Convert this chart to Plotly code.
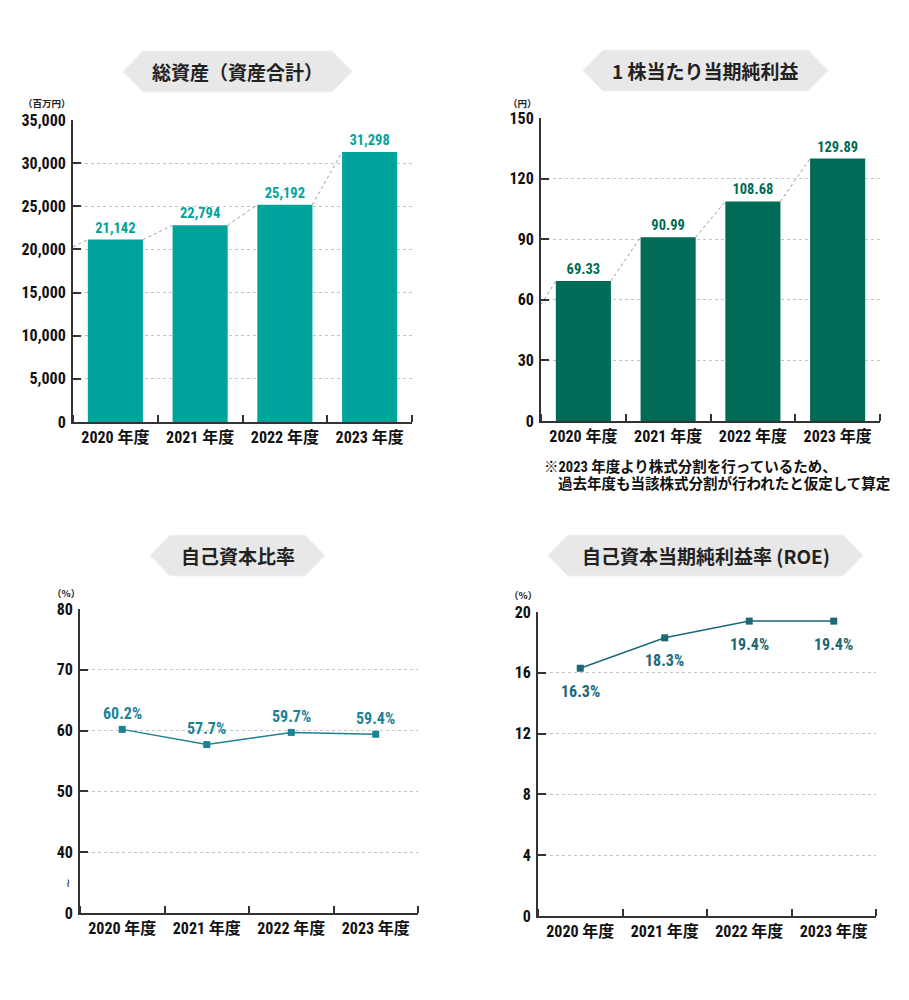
import plotly.graph_objects as go

# the page body has an 8px margin, so the figure is drawn 8px in from the corner
OFF = 8
W, H = 909 - OFF, 1000 - OFF

# data
years = ["2020 年度", "2021 年度", "2022 年度", "2023 年度"]
total_assets = [21142, 22794, 25192, 31298]      # 百万円
total_assets_lead = 20300                         # where the dotted guide meets the y axis
eps = [69.33, 90.99, 108.68, 129.89]              # 円
eps_lead = 57.7
equity_ratio = [60.2, 57.7, 59.7, 59.4]           # %
roe = [16.3, 18.3, 19.4, 19.4]                    # %

assets_ticks = [0, 5000, 10000, 15000, 20000, 25000, 30000, 35000]
eps_ticks = [0, 30, 60, 90, 120, 150]
ratio_ticks = [30, 40, 50, 60, 70, 80]            # 30 is drawn as "0" (broken axis)
ratio_ticktext = ["0", "40", "50", "60", "70", "80"]
roe_ticks = [0, 4, 8, 12, 16, 20]

titles = ["総資産（資産合計）", "1 株当たり当期純利益", "自己資本比率", "自己資本当期純利益率 (ROE)"]

# styles
AX = "#333333"
GRID = "#c4c4c4"
C_ASSETS = "#00a39b"
C_EPS = "#006b56"
C_RATIO = "#1b8296"
C_ROE = "#1b6977"
NUM = "Liberation Sans Narrow, Roboto Condensed, Roboto, Noto Sans CJK JP, sans-serif"
JP = "Noto Sans CJK JP, sans-serif"
BAR_W = 0.65

pos = list(range(len(years)))


def px_x(v):
    return (v - OFF) / W


def px_y(v):
    return 1 - (v - OFF) / H


def xaxis(x0, x1, anchor):
    return dict(domain=[px_x(x0), px_x(x1)], anchor=anchor,
                range=[-0.5, len(years) - 0.5], automargin=False,
                tickvals=pos, ticktext=years, ticks="",
                tickfont=dict(family=NUM, size=16, color="#111", weight="bold"),
                showline=True, linecolor=AX, linewidth=2,
                showgrid=False, zeroline=False, fixedrange=True,
                minor=dict(tickmode="linear", tick0=-0.5, dtick=1, ticks="inside",
                           ticklen=7, tickwidth=2, tickcolor=AX, showgrid=False))


def yaxis(y0, y1, anchor, rng, tickvals, ticktext):
    return dict(domain=[px_y(y1), px_y(y0)], anchor=anchor, range=rng, automargin=False,
                tickvals=tickvals, ticktext=ticktext,
                ticks="inside", ticklen=8, tickwidth=2, tickcolor=AX,
                ticklabelstandoff=2,
                tickfont=dict(family=NUM, size=16, color="#111", weight="bold"),
                showline=True, linecolor=AX, linewidth=2,
                showgrid=True, gridcolor=GRID, gridwidth=1, griddash="dot",
                zeroline=False, fixedrange=True)


def guide(values, lead):
    # dotted line joining bar corners
    xs, ys = [-0.5, -BAR_W / 2], [lead, values[0]]
    for i in range(len(values) - 1):
        xs += [None, i + BAR_W / 2, i + 1 - BAR_W / 2]
        ys += [None, values[i], values[i + 1]]
    return xs, ys


def note(text, cx, cy, size, color="#222", family=JP, xanchor="center"):
    return dict(x=px_x(cx), y=px_y(cy), xref="paper", yref="paper", text=text, showarrow=False,
                xanchor=xanchor, yanchor="middle",
                font=dict(family=family, size=size, color=color, weight="bold"))


fig = go.Figure()

# 総資産
gx, gy = guide(total_assets, total_assets_lead)
fig.add_trace(go.Scatter(x=gx, y=gy, mode="lines", xaxis="x", yaxis="y",
                         line=dict(color="#9a9a9a", width=1, dash="dot"), hoverinfo="skip"))
fig.add_trace(go.Bar(x=pos, y=total_assets, width=BAR_W, xaxis="x", yaxis="y",
                     marker=dict(color=C_ASSETS, line=dict(width=0)),
                     text=[f"{v:,}" for v in total_assets], textposition="outside",
                     outsidetextfont=dict(family=NUM, size=14.5, color=C_ASSETS, weight="bold"),
                     cliponaxis=False))

# 1株当たり当期純利益
gx, gy = guide(eps, eps_lead)
fig.add_trace(go.Scatter(x=gx, y=gy, mode="lines", xaxis="x2", yaxis="y2",
                         line=dict(color="#9a9a9a", width=1, dash="dot"), hoverinfo="skip"))
fig.add_trace(go.Bar(x=pos, y=eps, width=BAR_W, xaxis="x2", yaxis="y2",
                     marker=dict(color=C_EPS, line=dict(width=0)),
                     text=[f"{v:.2f}" for v in eps], textposition="outside",
                     outsidetextfont=dict(family=NUM, size=14.5, color=C_EPS, weight="bold"),
                     cliponaxis=False))

# 自己資本比率
fig.add_trace(go.Scatter(x=pos, y=equity_ratio, mode="lines+markers", xaxis="x3", yaxis="y3",
                         line=dict(color=C_RATIO, width=1.5),
                         marker=dict(symbol="square", size=7, color=C_RATIO)))

# ROE
fig.add_trace(go.Scatter(x=pos, y=roe, mode="lines+markers", xaxis="x4", yaxis="y4",
                         line=dict(color=C_ROE, width=1.5),
                         marker=dict(symbol="square", size=7, color=C_ROE)))

ann = []
for x, v in zip(pos, equity_ratio):
    ann.append(dict(x=x, y=v, xref="x3", yref="y3", text=f"{v}%", showarrow=False, yshift=16,
                    font=dict(family=NUM, size=16, color=C_RATIO, weight="bold")))
for x, v in zip(pos, roe):
    ann.append(dict(x=x, y=v, xref="x4", yref="y4", text=f"{v}%", showarrow=False, yshift=-23,
                    font=dict(family=NUM, size=16, color=C_ROE, weight="bold")))

# units
ann.append(note("（百万円）", 47, 103, 9.5))
ann.append(note("（円）", 522, 103, 9.5))
ann.append(note("（%）", 66, 593, 9.5))
ann.append(note("（%）", 523, 595, 9.5))

# broken axis mark
ann.append(dict(x=px_x(68), y=px_y(883), xref="paper", yref="paper", text="≀", showarrow=False,
                xanchor="center", yanchor="middle",
                font=dict(family="DejaVu Sans", size=12, color="#222")))

# footnote
ann.append(note("※2023 年度より株式分割を行っているため、", 542, 467, 14.5, "#111", NUM, "left"))
ann.append(note("過去年度も当該株式分割が行われたと仮定して算定", 556, 484, 14.5, "#111", NUM, "left"))

# title banners
shapes = []
banners = [(123, 352, 51, 92), (583, 828, 50, 91), (150, 325, 535, 576), (548, 863, 535, 576)]
for title, (x0, x1, y0, y1) in zip(titles, banners):
    d = 20
    ym = (y0 + y1) / 2
    pts = [(x0, ym), (x0 + d, y0), (x1 - d, y0), (x1, ym), (x1 - d, y1), (x0 + d, y1)]
    path = "M " + " L ".join(f"{px_x(a):.5f},{px_y(b):.5f}" for a, b in pts) + " Z"
    shapes.append(dict(type="path", path=path, xref="paper", yref="paper",
                       fillcolor="#e8e8e8", line=dict(color="#f2f2f2", width=1), layer="below"))
    ann.append(note(title, (x0 + x1) / 2, ym, 19))

fig.update_layout(
    width=W, height=H, autosize=False,
    margin=dict(l=0, r=0, t=0, b=0, pad=0, autoexpand=False),
    paper_bgcolor="white", plot_bgcolor="white",
    showlegend=False,
    xaxis=xaxis(73, 412, "y"),
    yaxis=yaxis(120, 422, "x", [0, 35000], assets_ticks, [f"{v:,}" for v in assets_ticks]),
    xaxis2=xaxis(541, 880, "y2"),
    yaxis2=yaxis(118, 421, "x2", [0, 150], eps_ticks, [str(v) for v in eps_ticks]),
    xaxis3=xaxis(80, 418, "y3"),
    yaxis3=yaxis(609, 913, "x3", [30, 80], ratio_ticks, ratio_ticktext),
    xaxis4=xaxis(538, 876, "y4"),
    yaxis4=yaxis(612, 916, "x4", [0, 20], roe_ticks, [str(v) for v in roe_ticks]),
    annotations=ann,
    shapes=shapes,
)

fig.write_html("out.html")
